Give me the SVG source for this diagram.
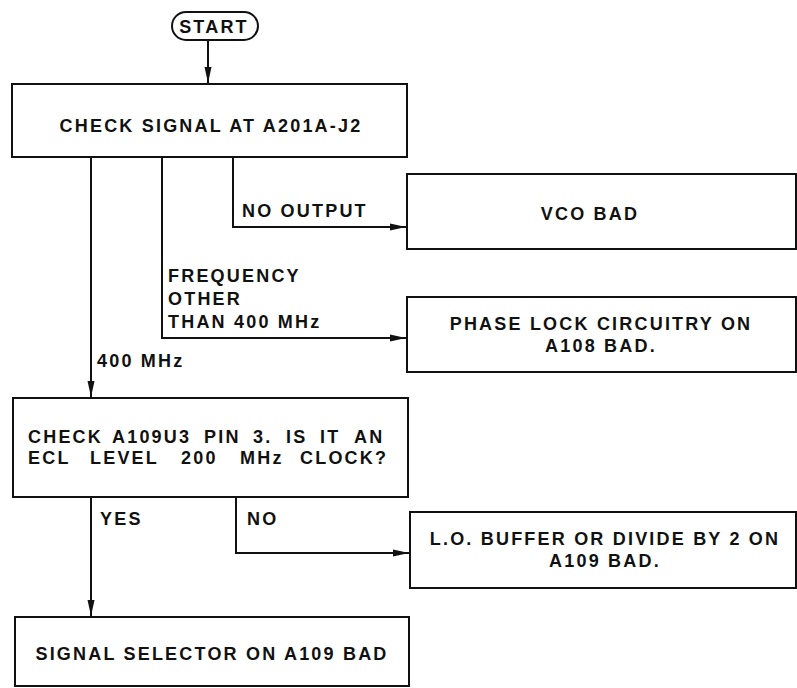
<svg xmlns="http://www.w3.org/2000/svg" width="797" height="688" viewBox="0 0 797 688">
<style>
  .box { fill: #fff; stroke: #111; stroke-width: 2; }
  .t { font-family: "Liberation Sans", Arial, sans-serif; font-weight: bold; font-size: 18px; letter-spacing: 2.2px; fill: #111; }
  .m { text-anchor: middle; }
  .wire { fill: none; stroke: #111; stroke-width: 2; }
</style>
<defs>
  <marker id="arr" markerUnits="userSpaceOnUse" markerWidth="16" markerHeight="10" viewBox="0 0 16 10" refX="16" refY="5" orient="auto">
    <path d="M0,1.5 L16,5 L0,8.5 Z" fill="#111"/>
  </marker>
</defs>
<rect width="797" height="688" fill="#fff"/>

<g id="connectors">
  <path class="wire" d="M208,40 V83" marker-end="url(#arr)"/>
  <path class="wire" d="M233,157 V227 H406" marker-end="url(#arr)"/>
  <path class="wire" d="M162,157 V338 H406" marker-end="url(#arr)"/>
  <path class="wire" d="M91,157 V397" marker-end="url(#arr)"/>
  <path class="wire" d="M91,497 V616" marker-end="url(#arr)"/>
  <path class="wire" d="M236,497 V553 H409" marker-end="url(#arr)"/>
  <text class="t" x="242" y="217">NO OUTPUT</text>
  <text class="t" x="168" y="282">FREQUENCY</text>
  <text class="t" x="168" y="305">OTHER</text>
  <text class="t" x="168" y="328">THAN 400 MHz</text>
  <text class="t" x="97" y="367">400 MHz</text>
  <text class="t" x="100" y="525">YES</text>
  <text class="t" x="247" y="525">NO</text>
</g>

<g id="start">
  <rect class="box" x="172" y="12" width="86" height="28" rx="14" ry="14"/>
  <text class="t m" x="214" y="33">START</text>
</g>

<g id="check-signal">
  <rect class="box" x="12" y="84" width="395" height="73"/>
  <text class="t m" x="211" y="132">CHECK SIGNAL AT A201A-J2</text>
</g>

<g id="vco-bad">
  <rect class="box" x="407" y="174" width="389" height="75"/>
  <text class="t m" x="590" y="220">VCO BAD</text>
</g>

<g id="phase-lock">
  <rect class="box" x="407" y="297" width="389" height="75"/>
  <text class="t m" x="601" y="330">PHASE LOCK CIRCUITRY ON</text>
  <text class="t m" x="601" y="352">A108 BAD.</text>
</g>

<g id="check-a109u3">
  <rect class="box" x="13" y="398" width="395" height="99"/>
  <text class="t" y="443"><tspan x="28">CHECK</tspan><tspan x="112">A109U3</tspan><tspan x="204">PIN</tspan><tspan x="253">3.</tspan><tspan x="286">IS</tspan><tspan x="320">IT</tspan><tspan x="354">AN</tspan></text>
  <text class="t" y="464"><tspan x="28">ECL</tspan><tspan x="90">LEVEL</tspan><tspan x="181">200</tspan><tspan x="240">MHz</tspan><tspan x="300">CLOCK?</tspan></text>
</g>

<g id="lo-buffer">
  <rect class="box" x="410" y="512" width="386" height="76"/>
  <text class="t m" x="605" y="545">L.O. BUFFER OR DIVIDE BY 2 ON</text>
  <text class="t m" x="605" y="567">A109 BAD.</text>
</g>

<g id="signal-selector">
  <rect class="box" x="15" y="617" width="394" height="69"/>
  <text class="t m" x="212" y="660">SIGNAL SELECTOR ON A109 BAD</text>
</g>
</svg>
